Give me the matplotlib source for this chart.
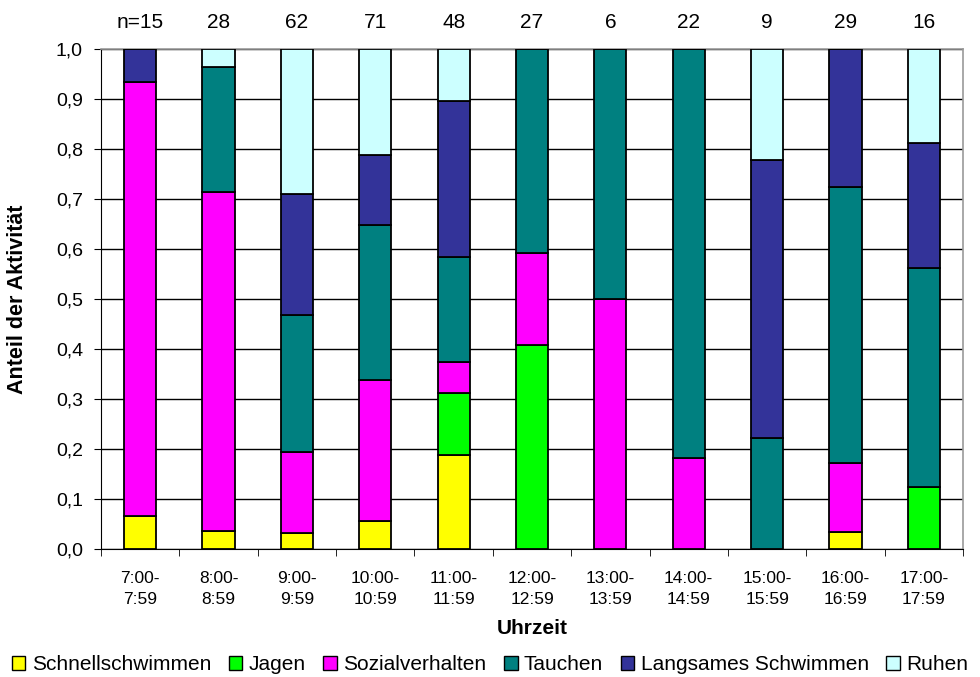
import matplotlib
matplotlib.use("Agg")
import matplotlib.pyplot as plt
import numpy as np
from matplotlib.patches import Patch
from matplotlib.ticker import MultipleLocator, FuncFormatter
from matplotlib import font_manager

plt.rcParams["font.family"] = ["Liberation Sans", "DejaVu Sans"]

narrow_fams = [f.name for f in font_manager.fontManager.ttflist if "Narrow" in f.name]
tick_family = ["Liberation Sans Narrow", "Liberation Sans"] if "Liberation Sans Narrow" in narrow_fams else ["Liberation Sans"]

categories = ["7:00-\n7:59", "8:00-\n8:59", "9:00-\n9:59", "10:00-\n10:59", "11:00-\n11:59",
              "12:00-\n12:59", "13:00-\n13:59", "14:00-\n14:59", "15:00-\n15:59",
              "16:00-\n16:59", "17:00-\n17:59"]
n_labels = ["n=15", "28", "62", "71", "48", "27", "6", "22", "9", "29", "16"]
n_total = [15, 28, 62, 71, 48, 27, 6, 22, 9, 29, 16]

schnellschwimmen = [1, 1, 2, 4, 9, 0, 0, 0, 0, 1, 0]
jagen            = [0, 0, 0, 0, 6, 11, 0, 0, 0, 0, 2]
sozialverhalten  = [13, 19, 10, 20, 3, 5, 3, 4, 0, 4, 0]
tauchen          = [0, 7, 17, 22, 10, 11, 3, 18, 2, 16, 7]
langsames        = [1, 0, 15, 10, 15, 0, 0, 0, 5, 8, 4]
ruhen            = [0, 1, 18, 15, 5, 0, 0, 0, 2, 0, 3]

series_names = ["Schnellschwimmen", "Jagen", "Sozialverhalten", "Tauchen",
                "Langsames Schwimmen", "Ruhen"]
series_counts = [schnellschwimmen, jagen, sozialverhalten, tauchen, langsames, ruhen]
colors = ["#FFFF00", "#00FF00", "#FF00FF", "#008080", "#333399", "#CCFFFF"]

fig = plt.figure(figsize=(9.8, 6.77), dpi=100)
ax = fig.add_axes([101/980, 1 - 549/677, 862/980, 500/677])

x = np.arange(len(categories))
n_arr = np.array(n_total, dtype=float)
bottom = np.zeros(len(categories))
for name, cnt, col in zip(series_names, series_counts, colors):
    vals = np.array(cnt) / n_arr
    ax.bar(x, vals, width=0.41, bottom=bottom, color=col, edgecolor="black",
           linewidth=1.3, zorder=3, label=name)
    bottom += vals

ax.set_xlim(-0.5, len(categories) - 0.5)
ax.set_ylim(0, 1.0)
ax.yaxis.set_major_locator(MultipleLocator(0.1))
ax.yaxis.set_major_formatter(FuncFormatter(lambda v, p: f"{v:.1f}".replace(".", ",")))
ax.grid(axis="y", color="black", linewidth=1.0, zorder=0)
ax.set_axisbelow(True)

for s in ["top", "right"]:
    ax.spines[s].set_color("#999999")
    ax.spines[s].set_linewidth(1.2)
ax.spines["left"].set_color("black")
ax.spines["bottom"].set_color("black")

ax.set_xticks(x)
ax.set_xticklabels(categories, fontsize=12.5, linespacing=1.45, family=tick_family)
ax.set_xticks(np.arange(len(categories) + 1) - 0.5, minor=True)
ax.tick_params(axis="x", which="major", length=0, pad=16)
ax.tick_params(axis="x", which="minor", length=5, direction="out", color="black")
ax.tick_params(axis="y", which="major", length=5, direction="out", labelsize=14, pad=8)

for xi, lab in zip(x, n_labels):
    ax.text(xi, 1.035, lab, ha="center", va="bottom", fontsize=15,
            transform=ax.get_xaxis_transform())

ax.set_ylabel("Anteil der Aktivität", fontsize=15.5, fontweight="bold")
ax.yaxis.set_label_coords((18 - 101) / 862, 0.5)
ax.yaxis.label.set_va("center")
ax.set_xlabel("Uhrzeit", fontsize=15, fontweight="bold")
ax.xaxis.set_label_coords(0.5, (549 - 628) / 500)
ax.xaxis.label.set_va("center")

handles = [Patch(facecolor=c, edgecolor="black", label=nm) for nm, c in zip(series_names, colors)]
fig.legend(handles=handles, loc="center", bbox_to_anchor=(0.5, 1 - 665/677), ncol=6,
           frameon=False, fontsize=15, handlelength=0.65, handleheight=0.65,
           handletextpad=0.3, columnspacing=0.85, borderaxespad=0, borderpad=0)

fig.savefig("out.png", dpi=100)
